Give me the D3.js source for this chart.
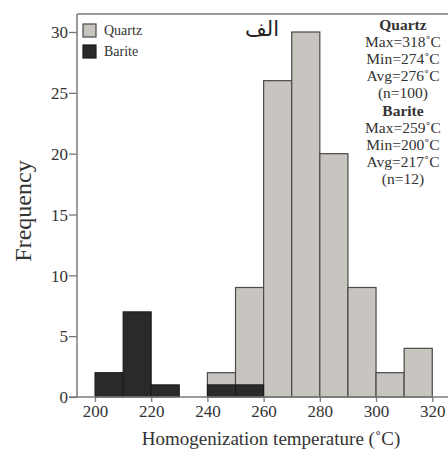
<!DOCTYPE html>
<html><head><meta charset="utf-8">
<script src="https://cdn.jsdelivr.net/npm/d3@7/dist/d3.min.js"></script>
<style>body{margin:0;background:#fff}svg{display:block}</style>
</head><body>
<script>
const binStarts = [200,210,220,230,240,250,260,270,280,290,300,310];
const quartz = [0,0,0,0,2,9,26,30,20,9,2,4];
const barite = [2,7,1,0,1,1,0,0,0,0,0,0];
const binWidth = 10;
const xTicks = [200,220,240,260,280,300,320];
const yTicks = [0,5,10,15,20,25,30];
const seriesNames = ["Quartz","Barite"];
const statsLines = [
  {t:"Quartz",b:true},{t:"Max=318˚C"},{t:"Min=274˚C"},{t:"Avg=276˚C"},{t:"(n=100)"},
  {t:"Barite",b:true},{t:"Max=259˚C"},{t:"Min=200˚C"},{t:"Avg=217˚C"},{t:"(n=12)"}
];

const W=448,H=449;
const svg=d3.select("body").append("svg").attr("width",W).attr("height",H);
const L=77,T=14,B=397,R=448;
const x=d3.scaleLinear().domain([193.6,325.6]).range([L,R]);
const y=d3.scaleLinear().domain([0,30]).range([B,32]);
const font="'Liberation Serif','Times New Roman',serif";
const axisCol="#7a7a7a";

const qFill="#c8c4bf", bFill="#2b2a28", edge="#4a4a4a";

svg.append("g").selectAll("rect").data(binStarts.map((s,i)=>({s,v:quartz[i]})).filter(d=>d.v>0))
 .join("rect").attr("x",d=>x(d.s)).attr("width",d=>x(d.s+binWidth)-x(d.s))
 .attr("y",d=>y(d.v)).attr("height",d=>y(0)-y(d.v))
 .attr("fill",qFill).attr("stroke",edge).attr("stroke-width",1.2);
svg.append("g").selectAll("rect").data(binStarts.map((s,i)=>({s,v:barite[i]})).filter(d=>d.v>0))
 .join("rect").attr("x",d=>x(d.s)).attr("width",d=>x(d.s+binWidth)-x(d.s))
 .attr("y",d=>y(d.v)).attr("height",d=>y(0)-y(d.v))
 .attr("fill",bFill).attr("stroke","#1a1a1a").attr("stroke-width",1);

const yAxis=svg.append("g").attr("transform",`translate(${L},0)`)
 .call(d3.axisLeft(y).tickValues(yTicks).tickSize(8).tickPadding(1).tickSizeOuter(0));
const xAxis=svg.append("g").attr("transform",`translate(0,${B})`)
 .call(d3.axisBottom(x).tickValues(xTicks).tickSize(5).tickPadding(3).tickSizeOuter(0));
[yAxis,xAxis].forEach(a=>{
  a.select(".domain").attr("stroke",axisCol).attr("stroke-width",1.5);
  a.selectAll(".tick line").attr("stroke",axisCol).attr("stroke-width",1.3);
  a.selectAll("text").attr("font-family",font).attr("font-size",17).attr("fill","#333");
});
yAxis.selectAll("text").attr("dy","0.34em");
yAxis.select(".domain").attr("d",`M0,${T}V${B}`);
xAxis.select(".domain").attr("d",`M${L-8},0H${R}`);
svg.append("line").attr("x1",L).attr("x2",R).attr("y1",T).attr("y2",T)
 .attr("stroke",axisCol).attr("stroke-width",1.5);

svg.append("text").attr("transform","translate(31,211) rotate(-90)")
 .attr("text-anchor","middle").attr("font-family",font).attr("font-size",24).attr("fill","#333")
 .text("Frequency");
svg.append("text").attr("x",271).attr("y",445).attr("text-anchor","middle")
 .attr("font-family",font).attr("font-size",19).attr("fill","#333")
 .text("Homogenization temperature (˚C)");

const lg=svg.append("g");
[[qFill,edge],[bFill,"#1a1a1a"]].forEach((c,i)=>{
  lg.append("rect").attr("x",83).attr("y",24+i*21).attr("width",13).attr("height",13)
   .attr("fill",c[0]).attr("stroke",c[1]).attr("stroke-width",1.2);
  lg.append("text").attr("x",104).attr("y",35+i*21).attr("font-family",font).attr("font-size",14)
   .attr("fill","#333").text(seriesNames[i]);
});

svg.append("text").attr("x",262).attr("y",36).attr("text-anchor","middle")
 .attr("font-family","'DejaVu Sans','Noto Sans',sans-serif").attr("font-size",21)
 .attr("fill","#222").text("الف");

svg.append("g").selectAll("text").data(statsLines).join("text")
 .attr("x",403).attr("y",(d,i)=>30+i*17.1).attr("text-anchor","middle")
 .attr("font-family",font).attr("font-size",15.5).attr("font-weight",d=>d.b?"bold":"normal")
 .attr("fill","#333").text(d=>d.t);
</script>
</body></html>
